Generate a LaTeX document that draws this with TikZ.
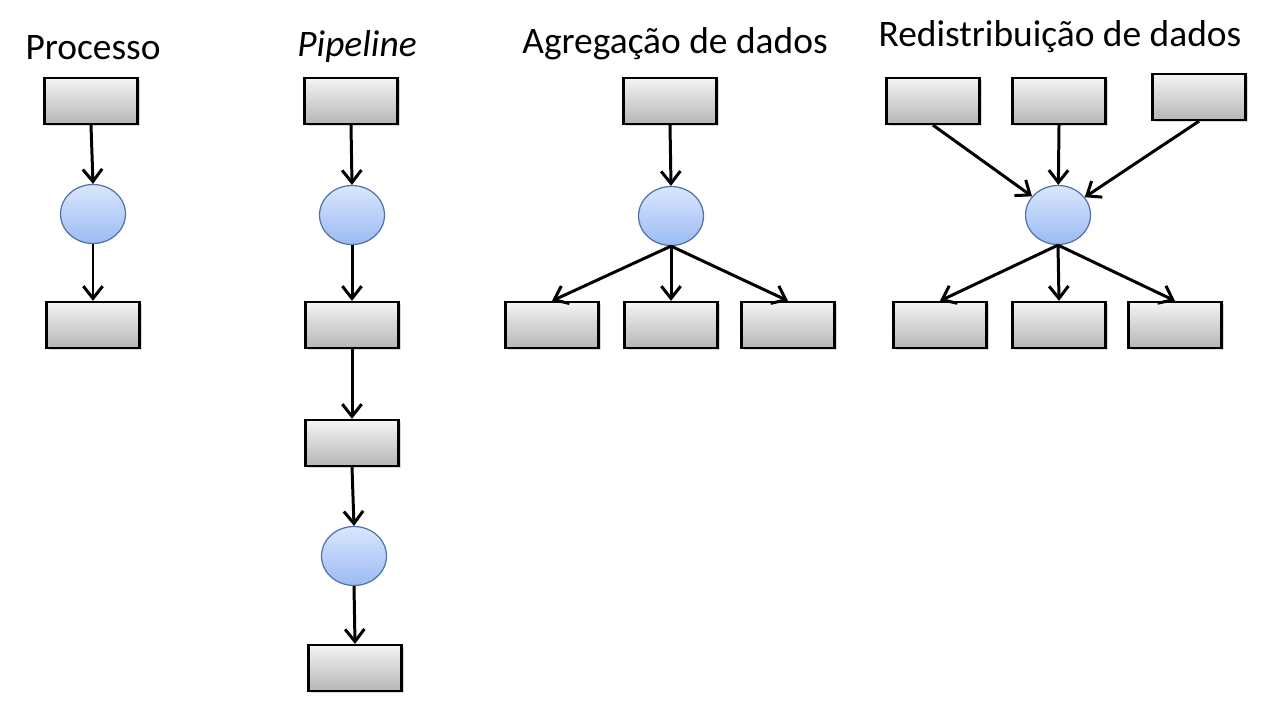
\documentclass[tikz,border=0pt]{standalone}
\usepackage{fontspec}
\setmainfont{Carlito}
\usetikzlibrary{shapes.geometric,arrows.meta,shadows}

\definecolor{caixaTopo}{RGB}{244,244,244}
\definecolor{caixaBase}{RGB}{182,182,182}
\definecolor{bolaTopo}{RGB}{218,230,253}
\definecolor{bolaBase}{RGB}{155,187,242}
\definecolor{bolaBorda}{RGB}{80,115,170}

\tikzset{
  caixa/.style={draw=black, line width=1.3pt, minimum width=1.86cm, minimum height=0.92cm,
    top color=caixaTopo, bottom color=caixaBase,
    drop shadow={shadow xshift=1.2pt, shadow yshift=-1.2pt, fill=black!30}},
  bola/.style={ellipse, draw=bolaBorda, line width=0.7pt, minimum width=1.3cm, minimum height=1.18cm,
    inner sep=0pt, top color=bolaTopo, bottom color=bolaBase},
  seta/.style={line width=1.7pt, -{Straight Barb[length=7pt,width=11pt,line width=1.7pt]}},
  titulo/.style={font=\fontsize{21.3}{25}\selectfont}
}

\begin{document}
\begin{tikzpicture}[x=0.02cm, y=-0.02cm]
  \useasboundingbox (0,0) rectangle (1266,703);

  % Processo
  \node[titulo] (tProc) at (93,48) {Processo};
  \node[caixa] (p1) at (91,101) {};
  \node[bola] (pc) at (93,214) {};
  \node[caixa] (p2) at (93,325) {};
  \draw[seta] (p1.south) -- (pc.north);
  \draw[seta] (pc.south) -- (p2.north);

  % Pipeline
  \node[titulo] (tPipe) at (357,47) {\itshape Pipeline};
  \node[caixa] (q1) at (351,101) {};
  \node[bola] (qc1) at (352,215) {};
  \node[caixa] (q2) at (352,325) {};
  \node[caixa] (q3) at (352,443) {};
  \node[bola] (qc2) at (354,556) {};
  \node[caixa] (q4) at (355,668) {};
  \draw[seta] (q1.south) -- (qc1.north);
  \draw[seta] (qc1.south) -- (q2.north);
  \draw[seta] (q2.south) -- (q3.north);
  \draw[seta] (q3.south) -- (qc2.north);
  \draw[seta] (qc2.south) -- (q4.north);

  % Agregacao de dados
  \node[titulo] (tAgr) at (675,44) {Agregação de dados};
  \node[caixa] (a0) at (670,101) {};
  \node[bola] (ac) at (671,216) {};
  \draw[seta] (a0.south) -- (ac.north);
  \foreach \nome/\x in {a1/552, a2/671, a3/788} {
    \node[caixa] (\nome) at (\x,325) {};
    \draw[seta] (ac.south) -- (\nome.north);
  }

  % Redistribuicao de dados
  \node[titulo] (tRed) at (1060,37) {Redistribuição de dados};
  \node[bola] (rc) at (1058,215) {};
  \foreach \nome/\x/\y in {r1/933/101, r2/1059/101, r3/1199/97} {
    \node[caixa] (\nome) at (\x,\y) {};
    \draw[seta] (\nome.south) -- (rc);
  }
  \foreach \nome/\x in {s1/940, s2/1059, s3/1175} {
    \node[caixa] (\nome) at (\x,325) {};
    \draw[seta] (rc.south) -- (\nome.north);
  }
\end{tikzpicture}
\end{document}
